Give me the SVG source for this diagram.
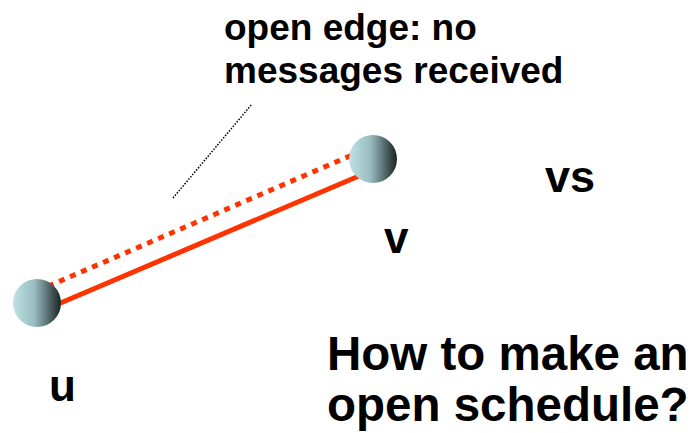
<svg xmlns="http://www.w3.org/2000/svg" width="693" height="433" viewBox="0 0 693 433">
<style>
text{font-family:"Liberation Sans",Arial,sans-serif;font-weight:bold;fill:#000}
.edge{stroke:#ff3300;stroke-width:5;fill:none}
.lead{stroke:#000;stroke-width:1.5;stroke-dasharray:1.5 1.5;fill:none}
.node{fill:url(#g)}
</style>
<defs>
<linearGradient id="g" x1="0" y1="0" x2="1" y2="0">
<stop offset="0" stop-color="#bfe2e5"/>
<stop offset="0.45" stop-color="#98bcbf"/>
<stop offset="1" stop-color="#1a2222"/>
</linearGradient>
</defs>
<rect width="693" height="433" fill="#fff"/>
<g id="connectors">
<line class="edge" x1="37" y1="313" x2="373" y2="170"/>
<line class="edge" x1="37" y1="291" x2="373" y2="146" stroke-dasharray="6 6"/>
<line class="lead" x1="173" y1="198" x2="252" y2="104"/>
</g>
<g id="node-u"><circle class="node" cx="37" cy="303" r="24"/></g>
<g id="node-v"><circle class="node" cx="373" cy="159" r="24"/></g>
<g id="labels">
<text x="224" y="40" font-size="37">open edge: no</text>
<text x="224" y="83" font-size="37">messages received</text>
<text x="545" y="192" font-size="45">vs</text>
<text x="384" y="253" font-size="44">v</text>
<text x="49" y="401" font-size="44">u</text>
<text x="327" y="370" font-size="47.5">How to make an</text>
<text x="327" y="421" font-size="47.5">open schedule?</text>
</g>
</svg>
